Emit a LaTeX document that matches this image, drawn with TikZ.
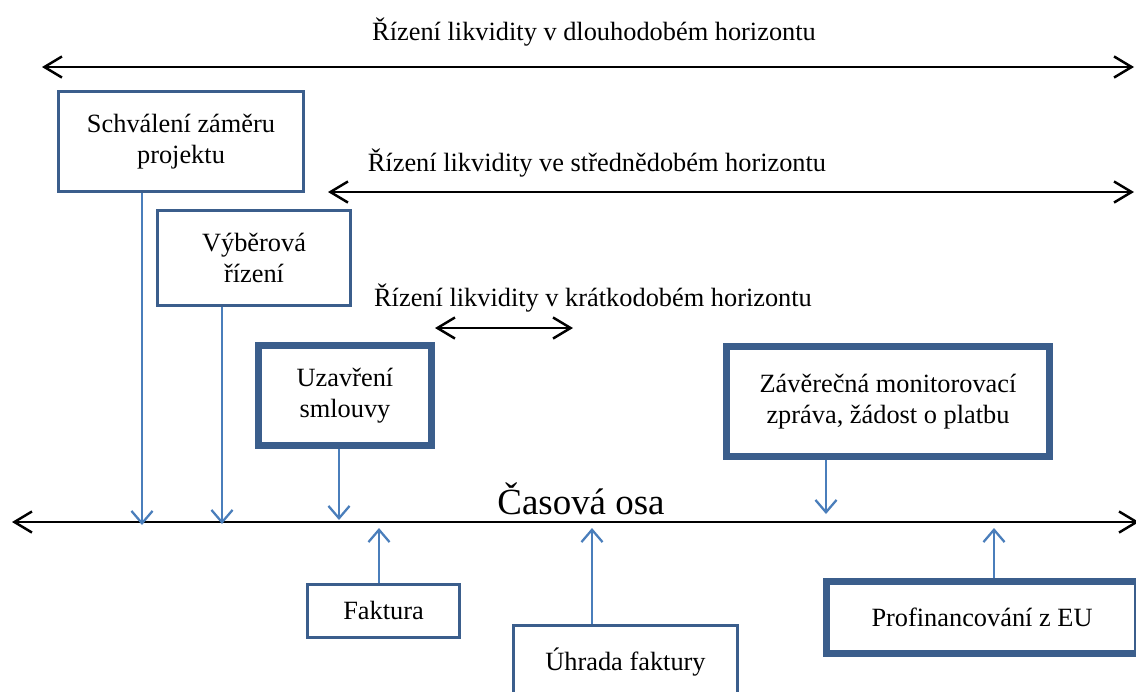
\documentclass[tikz,border=0pt]{standalone}
\usepackage{fontspec}
\setmainfont{Liberation Serif}
\usetikzlibrary{arrows.meta}
\definecolor{boxblue}{HTML}{3B5E8C}
\definecolor{lineblue}{HTML}{4A7EBB}
\tikzset{
  span/.style={draw=black, line width=1.4pt, {Straight Barb[length=10pt,width=12pt]}-{Straight Barb[length=10pt,width=12pt]}},
  flow/.style={draw=lineblue, line width=1.3pt, -{Straight Barb[length=7pt,width=12pt]}},
  thinbox/.style={draw=boxblue, line width=1.7pt, fill=white, align=center, inner sep=0pt},
  thickbox/.style={draw=boxblue, line width=4pt, fill=white, align=center, inner sep=0pt},
  lbl/.style={inner sep=0pt}
}

\begin{document}
\begin{tikzpicture}[x=0.02cm, y=-0.02cm, font=\fontsize{15}{18}\selectfont]
\useasboundingbox (0,0) rectangle (1136,691);
\clip (0,0) rectangle (1136,691);

% horizons
\node[lbl] (dlouhy) at (594, 32) {Řízení likvidity v dlouhodobém horizontu};
\node[lbl] (stredni) at (597, 163) {Řízení likvidity ve střednědobém horizontu};
\node[lbl] (kratky) at (593, 298) {Řízení likvidity v krátkodobém horizontu};
\coordinate (dL) at (42, 67);
\coordinate (dR) at (1134, 67);
\coordinate (sL) at (328, 192);
\coordinate (sR) at (1134, 192);
\coordinate (kL) at (435, 328);
\coordinate (kR) at (573, 328);
\draw[span] (dL) -- (dR);
\draw[span] (sL) -- (sR);
\draw[span] (kL) -- (kR);

% time axis
\coordinate (osaL) at (12, 522);
\coordinate (osaR) at (1139, 522);
\draw[span] (osaL) -- (osaR);
\node[lbl, font=\fontsize{21}{25}\selectfont] (osa) at (581, 499) {Časová osa};

% steps above the axis
\node[thinbox, minimum width=4.9cm, minimum height=2.0cm] (schval) at (181, 141.5) {Schválení záměru\\projektu};
\node[thinbox, minimum width=3.86cm, minimum height=1.9cm] (vyber) at (254, 258) {Výběrová\\řízení};
\node[thickbox, minimum width=3.46cm, minimum height=2.0cm] (uzavr) at (345, 395.5) {Uzavření\\smlouvy};
\node[thickbox, minimum width=6.46cm, minimum height=2.2cm] (zaver) at (888, 401.5) {Závěrečná monitorovací\\zpráva, žádost o platbu};

% steps below the axis
\node[thinbox, minimum width=3.06cm, minimum height=1.06cm] (faktura) at (383.5, 610.5) {Faktura};
\node[thinbox, minimum width=4.48cm, minimum height=1.48cm] (uhrada) at (625.5, 662) {Úhrada faktury};
\node[thickbox, minimum width=6.22cm, minimum height=1.44cm] (profin) at (982, 617.5) {Profinancování z EU};

\coordinate (t1) at (142, 525);
\coordinate (t2) at (222, 524);
\coordinate (t3) at (339, 520);
\coordinate (t4) at (826, 514);
\coordinate (b1) at (379, 528);
\coordinate (b2) at (592, 528);
\coordinate (b3) at (994, 528);
\draw[flow] (schval.south -| t1) -- (t1);
\draw[flow] (vyber.south -| t2) -- (t2);
\draw[flow] (uzavr.south -| t3) -- (t3);
\draw[flow] (zaver.south -| t4) -- (t4);
\draw[flow] (faktura.north -| b1) -- (b1);
\draw[flow] (uhrada.north -| b2) -- (b2);
\draw[flow] (profin.north -| b3) -- (b3);
\end{tikzpicture}
\end{document}
